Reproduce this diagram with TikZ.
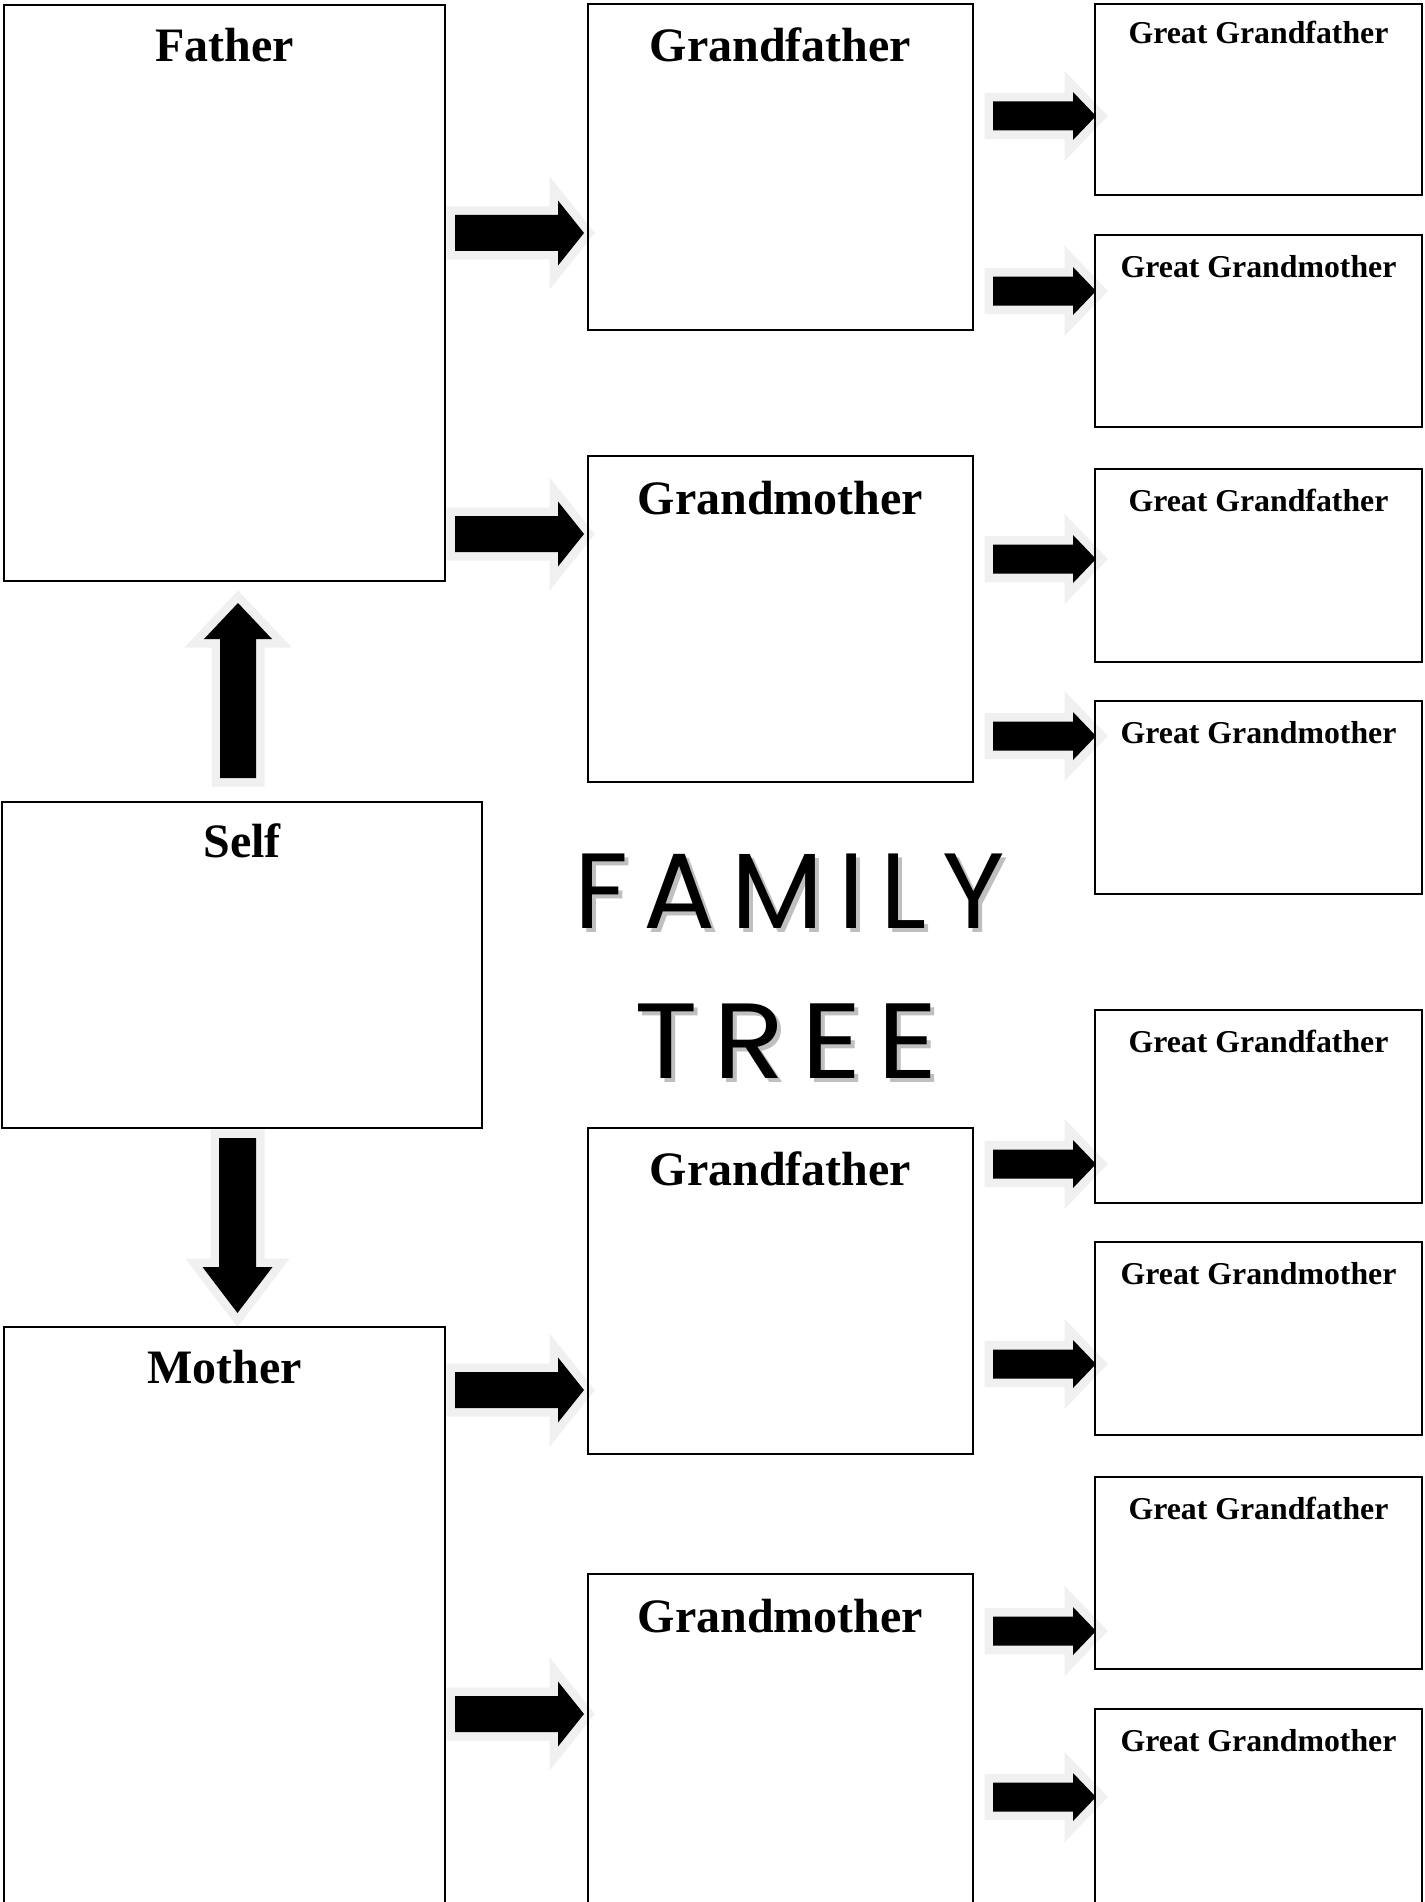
\documentclass[tikz,border=0pt]{standalone}
\usepackage{fontspec}
\setmainfont{Liberation Serif}
\newfontfamily\titlefontA[LetterSpace=14.5]{Poppins}
\newfontfamily\titlefontB[LetterSpace=13.6]{Poppins}
\usetikzlibrary{calc}
\tikzset{
  box/.style={draw=black, line width=2.6pt, inner sep=0pt, outer sep=0pt, anchor=north west},
  lbl/.style={font=\bfseries\fontsize{48}{50}\selectfont, anchor=base, inner sep=0pt},
  glbl/.style={font=\bfseries\fontsize{31.8}{33}\selectfont, anchor=base, inner sep=0pt},
  arrshadow/.style={fill=black!6, draw=black!6, line width=17pt, line join=miter},
  arrbody/.style={fill=black},
  ttlA/.style={font=\titlefontA\fontsize{107}{110}\selectfont, anchor=base west, inner sep=0pt},
  ttlB/.style={font=\titlefontB\fontsize{107}{110}\selectfont, anchor=base west, inner sep=0pt},
}
\newcommand{\famBox}[5]{\node[box, minimum width={#4pt-#2pt}, minimum height={#5pt-#3pt}] (#1) at (#2,#3) {};}
\newcommand{\famArrowH}[6]{%
  \path[arrshadow] (#1,#4-#5) -- (#2,#4-#5) -- (#2,#4-#6) -- (#3,#4) -- (#2,#4+#6) -- (#2,#4+#5) -- (#1,#4+#5) -- cycle;
  \path[arrbody] (#1,#4-#5) -- (#2,#4-#5) -- (#2,#4-#6) -- (#3,#4) -- (#2,#4+#6) -- (#2,#4+#5) -- (#1,#4+#5) -- cycle;}
\newcommand{\famArrowV}[6]{%
  \path[arrshadow] (#1-#5,#2) -- (#1-#5,#3) -- (#1-#6,#3) -- (#1,#4) -- (#1+#6,#3) -- (#1+#5,#3) -- (#1+#5,#2) -- cycle;
  \path[arrbody] (#1-#5,#2) -- (#1-#5,#3) -- (#1-#6,#3) -- (#1,#4) -- (#1+#6,#3) -- (#1+#5,#3) -- (#1+#5,#2) -- cycle;}
\begin{document}
\begin{tikzpicture}[x=1pt,y=-1pt]
\useasboundingbox (0,0) rectangle (1424,1902);
\fill[white] (0,0) rectangle (1424,1902);
% arrows
\famArrowH{455}{558}{584}{233}{18}{32.5}
\famArrowH{455}{558}{584}{534}{18}{32.5}
\famArrowH{455}{558}{584}{1390}{18}{32.5}
\famArrowH{455}{558}{584}{1714}{18}{32.5}
\foreach \yc in {116,291,559,736,1164,1364,1631,1797}{\famArrowH{993}{1073}{1096}{\yc}{14.5}{24}}
\famArrowV{238}{778}{639}{603}{18}{34}
\famArrowV{237.5}{1138}{1267}{1313}{18.5}{35}
% boxes
\famBox{father}{4}{5}{445}{581}
\famBox{self}{2}{802}{482}{1128}
\famBox{mother}{4}{1327}{445}{1910}
\famBox{gfa}{588}{4}{973}{330}
\famBox{gma}{588}{456}{973}{782}
\famBox{gfb}{588}{1128}{973}{1454}
\famBox{gmb}{588}{1574}{973}{1910}
\famBox{ggf1}{1095}{4}{1422}{195}
\famBox{ggm1}{1095}{235}{1422}{427}
\famBox{ggf2}{1095}{469}{1422}{662}
\famBox{ggm2}{1095}{701}{1422}{894}
\famBox{ggf3}{1095}{1010}{1422}{1203}
\famBox{ggm3}{1095}{1242}{1422}{1435}
\famBox{ggf4}{1095}{1477}{1422}{1669}
\famBox{ggm4}{1095}{1709}{1422}{1910}
% labels
\node[lbl] (lfather) at ($(father.north)+(0,57)$) {Father};
\node[lbl] (lself) at ($(self.north)+(0,55)$) {Self};
\node[lbl] (lmother) at ($(mother.north)+(0,56)$) {Mother};
\node[lbl] (lgfa) at ($(gfa.north)+(0,58)$) {Grandfather};
\node[lbl] (lgma) at ($(gma.north)+(0,58)$) {Grandmother};
\node[lbl] (lgfb) at ($(gfb.north)+(0,57)$) {Grandfather};
\node[lbl] (lgmb) at ($(gmb.north)+(0,58)$) {Grandmother};
\node[glbl] (lggf1) at ($(ggf1.north)+(0,40)$) {Great Grandfather};
\node[glbl] (lggm1) at ($(ggm1.north)+(0,42)$) {Great Grandmother};
\node[glbl] (lggf2) at ($(ggf2.north)+(0,42)$) {Great Grandfather};
\node[glbl] (lggm2) at ($(ggm2.north)+(0,42)$) {Great Grandmother};
\node[glbl] (lggf3) at ($(ggf3.north)+(0,42)$) {Great Grandfather};
\node[glbl] (lggm3) at ($(ggm3.north)+(0,42)$) {Great Grandmother};
\node[glbl] (lggf4) at ($(ggf4.north)+(0,42)$) {Great Grandfather};
\node[glbl] (lggm4) at ($(ggm4.north)+(0,42)$) {Great Grandmother};
% title
\node[ttlA, text=black!25] (t1s) at (578,932) {FAMILY};
\node[ttlA] (t1) at (574,928) {FAMILY};
\node[ttlB, text=black!25] (t2s) at (638,1082) {\scalebox{1.1}[1]{TREE}};
\node[ttlB] (t2) at (634,1078) {\scalebox{1.1}[1]{TREE}};
\end{tikzpicture}
\end{document}
